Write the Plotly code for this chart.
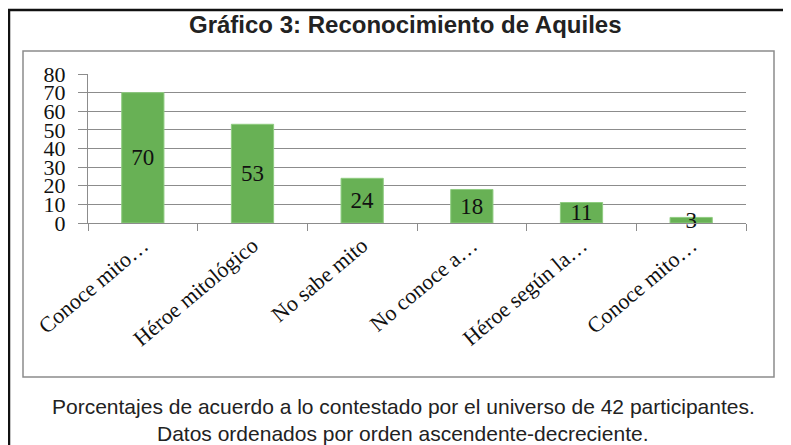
import plotly.graph_objects as go

categories = ["Conoce mito…", "Héroe mitológico", "No sabe mito",
              "No conoce a…", "Héroe según la…", "Conoce mito…"]
values = [70, 53, 24, 18, 11, 3]
y_ticks = [0, 10, 20, 30, 40, 50, 60, 70, 80]

title_text = "Gráfico 3: Reconocimiento de Aquiles"
caption_lines = ["Porcentajes de acuerdo a lo contestado por el universo de 42 participantes.",
                 "Datos ordenados por orden ascendente-decreciente."]

OFF = 8  # page body margin
W, H = 791 - OFF, 445 - OFF
# plot area in reference-picture pixels
L, R, T, B = 88, 746, 74, 223


def px(x):
    return (x - L) / (R - L)


def py(y):
    return (B - y) / (B - T)


xs = list(range(len(categories)))
serif = "Liberation Serif, Times New Roman, serif"
sans = "Liberation Sans, Arial, sans-serif"
grid = "#8c8c8c"

fig = go.Figure(go.Bar(
    x=xs, y=values, width=0.385,
    marker=dict(color="#68b155", line=dict(color="#8fcc80", width=1)),
    text=[str(v) for v in values], textposition="inside", textangle=0,
    insidetextanchor="middle", constraintext="none",
    textfont=dict(family=serif, size=23, color="#111"),
    cliponaxis=False,
))

fig.update_layout(
    width=W, height=H,
    margin=dict(l=L - OFF, r=(W + OFF) - R, t=T - OFF, b=(H + OFF) - B, pad=0),
    paper_bgcolor="white", plot_bgcolor="white",
    showlegend=False,
    xaxis=dict(
        range=[-0.5, len(categories) - 0.5],
        tickmode="array", tickvals=xs, ticktext=categories,
        tickangle=-40, ticks="",
        tickfont=dict(family=serif, size=22, color="#111"),
        showgrid=False, zeroline=False,
        showline=True, linecolor=grid, linewidth=1,
        minor=dict(tickmode="array",
                   tickvals=[i - 0.5 for i in range(len(categories) + 1)],
                   ticks="outside", ticklen=7, tickcolor=grid, tickwidth=1,
                   showgrid=False),
    ),
    yaxis=dict(
        range=[0, 80], tickmode="array", tickvals=y_ticks,
        ticks="outside", ticklen=9, tickcolor=grid,
        ticklabelstandoff=8,
        tickfont=dict(family=serif, size=22, color="#111"),
        showgrid=True, gridcolor=grid, gridwidth=1,
        zeroline=False, showline=True, linecolor=grid, linewidth=1,
    ),
)

shapes = [
    # outer black border (left and top)
    dict(type="line", xref="paper", yref="paper",
         x0=px(9), x1=px(9), y0=py(9), y1=py(470),
         line=dict(color="#111", width=2.5)),
    dict(type="line", xref="paper", yref="paper",
         x0=px(8), x1=px(810), y0=py(10), y1=py(10),
         line=dict(color="#111", width=2.5)),
    # inner gray frame
    dict(type="rect", xref="paper", yref="paper",
         x0=px(23), x1=px(774), y0=py(377), y1=py(51),
         line=dict(color="#8c8c8c", width=1.5), fillcolor="rgba(0,0,0,0)"),
]
fig.update_layout(shapes=shapes)

annotations = [
    dict(text="<b>" + title_text + "</b>", xref="paper", yref="paper",
         x=px(405), y=py(25), xanchor="center", yanchor="middle",
         showarrow=False, font=dict(family=sans, size=24, color="#222")),
    dict(text=caption_lines[0], xref="paper", yref="paper",
         x=px(403), y=py(406), xanchor="center", yanchor="middle",
         showarrow=False, font=dict(family=sans, size=21, color="#222")),
    dict(text=caption_lines[1], xref="paper", yref="paper",
         x=px(403), y=py(433), xanchor="center", yanchor="middle",
         showarrow=False, font=dict(family=sans, size=21, color="#222")),
]
fig.update_layout(annotations=annotations)

fig.write_html("out.html")
